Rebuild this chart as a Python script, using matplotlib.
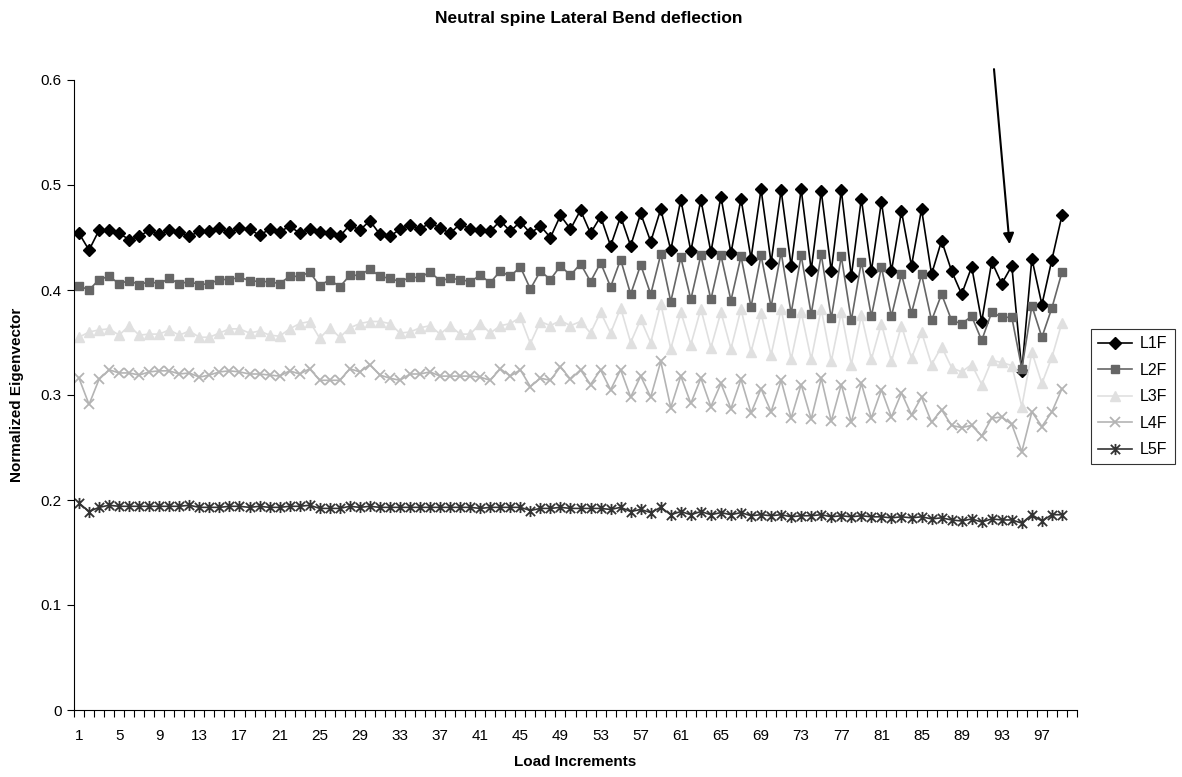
import numpy as np
import matplotlib
matplotlib.use("Agg")
import matplotlib.pyplot as plt
from matplotlib.path import Path

plt.rcParams['font.family'] = ['Liberation Sans', 'DejaVu Sans']

# Normalized eigenvector per load increment, one list per level
l1f = [0.454, 0.438, 0.457, 0.457, 0.454, 0.448, 0.451, 0.457, 0.453, 0.457,
       0.455, 0.451, 0.456, 0.456, 0.459, 0.455, 0.459, 0.458, 0.452, 0.458,
       0.455, 0.461, 0.454, 0.458, 0.455, 0.454, 0.451, 0.462, 0.457, 0.466,
       0.453, 0.451, 0.458, 0.462, 0.458, 0.464, 0.459, 0.454, 0.463, 0.458,
       0.457, 0.456, 0.466, 0.456, 0.465, 0.454, 0.461, 0.450, 0.471, 0.458,
       0.476, 0.454, 0.470, 0.442, 0.470, 0.442, 0.473, 0.446, 0.477, 0.438,
       0.486, 0.437, 0.486, 0.436, 0.489, 0.435, 0.487, 0.430, 0.496, 0.426,
       0.495, 0.423, 0.496, 0.419, 0.494, 0.418, 0.495, 0.413, 0.487, 0.418,
       0.484, 0.418, 0.475, 0.423, 0.477, 0.415, 0.447, 0.418, 0.396, 0.422,
       0.370, 0.427, 0.406, 0.423, 0.323, 0.430, 0.386, 0.429, 0.471]

l2f = [0.404, 0.400, 0.410, 0.413, 0.406, 0.409, 0.405, 0.408, 0.406, 0.411,
       0.406, 0.408, 0.405, 0.406, 0.410, 0.410, 0.412, 0.409, 0.408, 0.408,
       0.406, 0.413, 0.413, 0.417, 0.404, 0.410, 0.403, 0.414, 0.414, 0.420,
       0.413, 0.411, 0.408, 0.412, 0.412, 0.417, 0.409, 0.411, 0.410, 0.408,
       0.414, 0.407, 0.418, 0.413, 0.422, 0.401, 0.418, 0.410, 0.423, 0.414,
       0.425, 0.408, 0.426, 0.403, 0.429, 0.396, 0.424, 0.396, 0.434, 0.389,
       0.431, 0.391, 0.433, 0.391, 0.433, 0.390, 0.432, 0.384, 0.433, 0.384,
       0.436, 0.378, 0.433, 0.377, 0.434, 0.373, 0.432, 0.371, 0.427, 0.375,
       0.422, 0.375, 0.415, 0.378, 0.415, 0.371, 0.396, 0.371, 0.368, 0.375,
       0.352, 0.379, 0.374, 0.374, 0.325, 0.385, 0.355, 0.383, 0.417]

l3f = [0.355, 0.360, 0.362, 0.363, 0.357, 0.366, 0.357, 0.358, 0.358, 0.362,
       0.357, 0.361, 0.355, 0.355, 0.359, 0.363, 0.363, 0.359, 0.361, 0.357,
       0.356, 0.363, 0.368, 0.370, 0.354, 0.364, 0.355, 0.364, 0.368, 0.370,
       0.370, 0.368, 0.359, 0.360, 0.364, 0.366, 0.358, 0.366, 0.358, 0.358,
       0.368, 0.359, 0.366, 0.368, 0.374, 0.349, 0.370, 0.366, 0.371, 0.366,
       0.370, 0.359, 0.379, 0.359, 0.383, 0.350, 0.372, 0.350, 0.387, 0.344,
       0.379, 0.348, 0.382, 0.345, 0.379, 0.344, 0.382, 0.341, 0.378, 0.338,
       0.382, 0.334, 0.379, 0.334, 0.382, 0.332, 0.379, 0.329, 0.376, 0.334,
       0.368, 0.332, 0.366, 0.335, 0.360, 0.329, 0.346, 0.326, 0.322, 0.329,
       0.310, 0.333, 0.331, 0.328, 0.289, 0.341, 0.311, 0.336, 0.369]

l4f = [0.316, 0.291, 0.315, 0.324, 0.321, 0.321, 0.319, 0.322, 0.323, 0.323,
       0.320, 0.321, 0.317, 0.319, 0.322, 0.323, 0.322, 0.320, 0.320, 0.319,
       0.318, 0.323, 0.320, 0.325, 0.314, 0.314, 0.314, 0.325, 0.322, 0.329,
       0.319, 0.316, 0.314, 0.320, 0.320, 0.322, 0.318, 0.318, 0.318, 0.318,
       0.317, 0.314, 0.325, 0.318, 0.324, 0.308, 0.316, 0.314, 0.327, 0.315,
       0.324, 0.310, 0.324, 0.305, 0.324, 0.298, 0.318, 0.298, 0.332, 0.288,
       0.318, 0.292, 0.316, 0.289, 0.311, 0.287, 0.315, 0.283, 0.306, 0.284,
       0.314, 0.278, 0.310, 0.277, 0.316, 0.275, 0.310, 0.274, 0.311, 0.278,
       0.305, 0.279, 0.302, 0.281, 0.298, 0.274, 0.286, 0.271, 0.269, 0.271,
       0.261, 0.278, 0.279, 0.272, 0.246, 0.284, 0.270, 0.284, 0.306]

l5f = [0.197, 0.189, 0.193, 0.195, 0.194, 0.194, 0.194, 0.194, 0.194, 0.194,
       0.194, 0.195, 0.193, 0.193, 0.193, 0.194, 0.194, 0.193, 0.194, 0.193,
       0.193, 0.194, 0.194, 0.195, 0.192, 0.192, 0.192, 0.194, 0.193, 0.194,
       0.193, 0.193, 0.193, 0.193, 0.193, 0.193, 0.193, 0.193, 0.193, 0.193,
       0.192, 0.193, 0.193, 0.193, 0.193, 0.190, 0.192, 0.192, 0.193, 0.192,
       0.192, 0.192, 0.192, 0.191, 0.193, 0.189, 0.191, 0.188, 0.193, 0.186,
       0.189, 0.186, 0.189, 0.186, 0.188, 0.186, 0.188, 0.185, 0.186, 0.185,
       0.186, 0.184, 0.185, 0.185, 0.186, 0.184, 0.185, 0.184, 0.185, 0.184,
       0.184, 0.183, 0.184, 0.183, 0.184, 0.182, 0.183, 0.181, 0.180, 0.182,
       0.179, 0.182, 0.181, 0.181, 0.178, 0.186, 0.180, 0.186, 0.186]

increments = np.arange(1, len(l1f) + 1)
n_categories = 100
tick_labels = list(range(1, n_categories, 4))

# excel-style asterisk: an x with a vertical bar through it
asterisk = Path([(-0.5, -0.5), (0.5, 0.5), (-0.5, 0.5), (0.5, -0.5), (0, -0.6), (0, 0.6)],
                [Path.MOVETO, Path.LINETO, Path.MOVETO, Path.LINETO, Path.MOVETO, Path.LINETO])

fig = plt.figure(figsize=(11.82, 7.77), dpi=100)
ax = fig.add_axes([74 / 1182, 1 - 710 / 777, (1077 - 74) / 1182, 630 / 777])

ax.plot(increments, l1f, color='black', lw=1.2, marker='D', ms=6.5, label='L1F')
ax.plot(increments, l2f, color='#666666', lw=1.2, marker='s', ms=6, label='L2F')
ax.plot(increments, l3f, color='#e0e0e0', lw=1.2, marker='^', ms=7, label='L3F')
ax.plot(increments, l4f, color='#b4b4b4', lw=1.2, marker='x', ms=7, mew=1.3, label='L4F')
ax.plot(increments, l5f, color='#333333', lw=1.2, marker=asterisk, ms=8, mew=1.3, label='L5F')

ax.set_xlim(0.5, n_categories + 0.5)
ax.set_ylim(0, 0.6)
ax.set_yticks(np.arange(0, 0.61, 0.1))
ax.set_yticklabels(['0', '0.1', '0.2', '0.3', '0.4', '0.5', '0.6'])
ax.set_xticks(tick_labels)
ax.set_xticklabels([str(t) for t in tick_labels])
ax.set_xticks(np.arange(0.5, n_categories + 1, 1), minor=True)
ax.tick_params(axis='x', which='major', length=0, pad=14, labelsize=11)
ax.tick_params(axis='x', which='minor', length=5, width=0.8, direction='out')
ax.tick_params(axis='y', length=5, width=0.8, direction='out', labelsize=11, pad=4)

for side in ['top', 'right']:
    ax.spines[side].set_visible(False)
for side in ['left', 'bottom']:
    ax.spines[side].set_linewidth(0.8)

fig.text(0.498, 1 - 18 / 777, 'Neutral spine Lateral Bend deflection',
         ha='center', va='center', fontsize=12.5, fontweight='bold')
ax.set_xlabel('Load Increments', fontsize=11, fontweight='bold', labelpad=8)
fig.text(17 / 1182, 1 - 395 / 777, 'Normalized Eigenvector', rotation=90,
         ha='center', va='center', fontsize=11, fontweight='bold')

ax.annotate('', xy=(93.8, 0.441), xytext=(92.2, 0.613),
            arrowprops=dict(arrowstyle='-|>', color='black', lw=1.5, mutation_scale=16),
            annotation_clip=False)

leg = fig.legend(loc='upper left', bbox_to_anchor=(1091 / 1182, 1 - 329 / 777),
                 frameon=True, fancybox=False, fontsize=11.5, handlelength=2.1,
                 handletextpad=0.5, borderaxespad=0, labelspacing=0.72, borderpad=0.45)
leg.get_frame().set_edgecolor('black')
leg.get_frame().set_linewidth(0.8)

fig.savefig('out.png', dpi=100)
